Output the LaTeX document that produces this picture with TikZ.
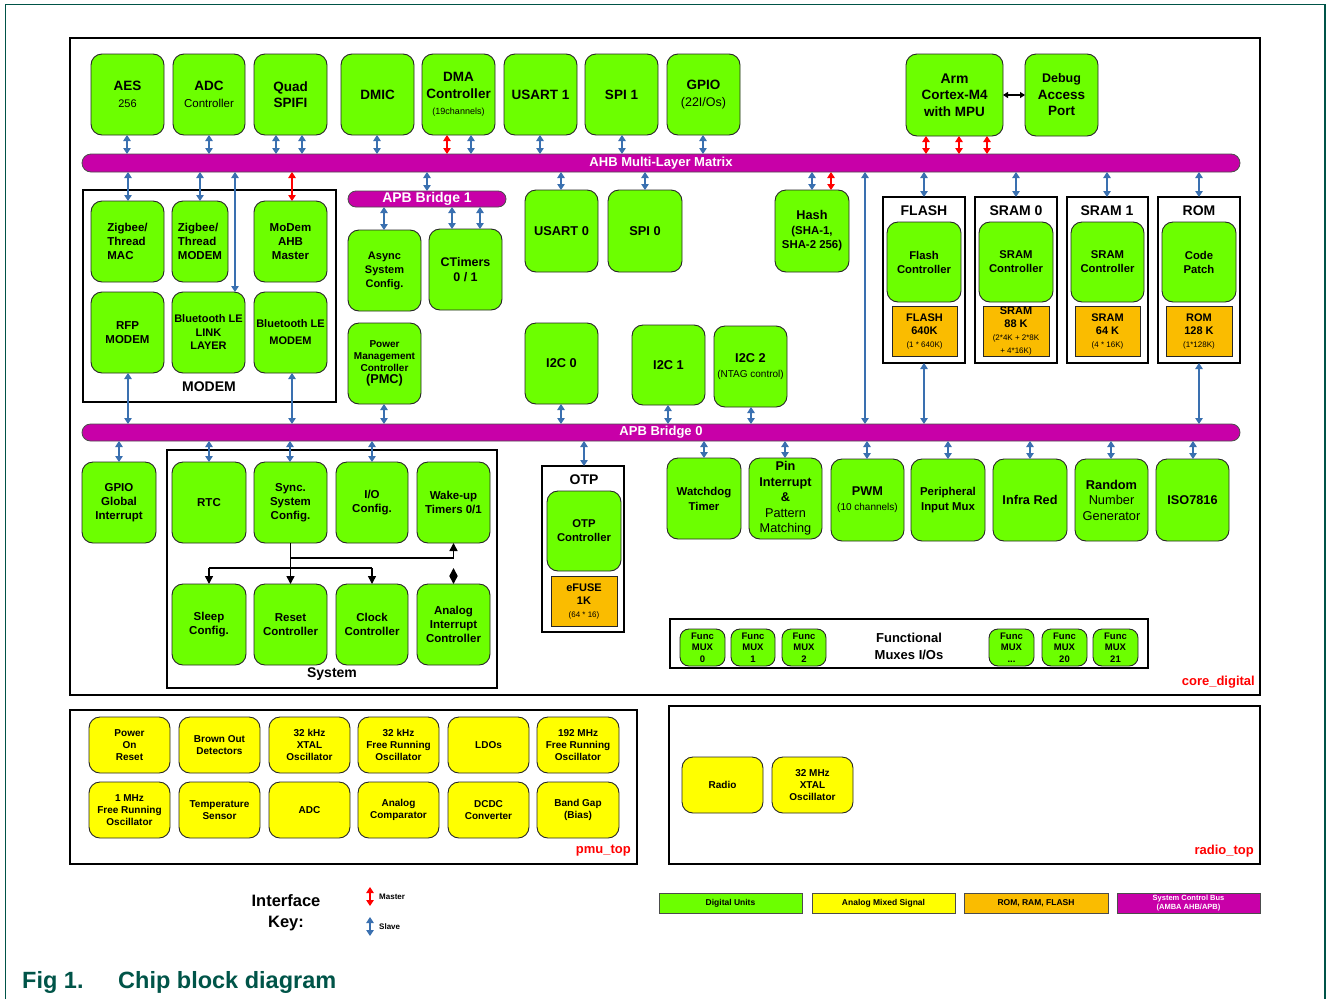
\documentclass[tikz,border=0pt]{standalone}
\usepackage{fontspec}
\setmainfont{Liberation Sans}
\usetikzlibrary{arrows.meta}

\definecolor{dgreen}{RGB}{108,255,0}
\definecolor{ayellow}{RGB}{255,255,0}
\definecolor{morange}{RGB}{250,188,0}
\definecolor{busmag}{RGB}{200,0,168}
\definecolor{sblue}{RGB}{58,112,176}
\definecolor{frameteal}{RGB}{0,84,72}

\newcommand\fz[2]{\fontsize{#1}{#2}\selectfont}
% block: name, x1, y1, x2, y2, style, text
\newcommand\blk[7]{\node[#6, minimum width={(#4)-(#2)}, minimum height={(#5)-(#3)}] (#1) at ({((#2)+(#4))/2},{((#3)+(#5))/2}) {#7};}
% vertical link at a given x between two node borders
\newcommand\vlink[4]{\draw[#1] (#2,0 |- #3) -- (#2,0 |- #4);}

\tikzset{
  gb/.style={draw=black!85, line width=0.9pt, fill=dgreen, rounded corners=11pt, align=center,
             inner sep=0pt, outer sep=0pt, font=\fz{11.5}{14}\bfseries},
  tb/.style={gb, font=\fz{13.5}{16.5}\bfseries},
  yb/.style={gb, fill=ayellow, font=\fz{10}{12}\bfseries},
  fm/.style={gb, rounded corners=9pt, font=\fz{9.5}{11.5}\bfseries},
  ob/.style={draw=black!85, line width=0.9pt, fill=morange, align=center, inner sep=0pt,
             outer sep=0pt, font=\fz{11}{13}\bfseries},
  grp/.style={draw=black, line width=1.7pt, fill=white, inner sep=0pt, outer sep=0pt},
  bus/.style={draw=black!70, line width=0.8pt, fill=busmag, rounded corners=8pt, text=white,
              font=\fz{13}{15}\bfseries, inner sep=0pt, outer sep=0pt},
  lg/.style={draw=black!70, line width=0.9pt, align=center, inner sep=0pt, outer sep=0pt,
             font=\fz{8.5}{10}\bfseries},
  hd/.style={font=\fz{14}{16}\bfseries, inner sep=0pt},
  tag/.style={text=red, font=\fz{13}{15}\bfseries, anchor=east, inner sep=0pt},
  sa/.style={sblue, line width=1.1pt, {Triangle[length=6pt,width=7.5pt]}-{Triangle[length=6pt,width=7.5pt]}},
  ma/.style={sa, red},
  kl/.style={black, line width=1.5pt},
  ka/.style={kl, -{Triangle[length=8pt,width=8pt]}},
  dka/.style={kl, {Triangle[length=8pt,width=8pt]}-{Triangle[length=8pt,width=8pt]}},
  sk/.style={black, line width=1.1pt, {Triangle[length=5pt,width=6pt]}-{Triangle[length=5pt,width=6pt]}},
}

\begin{document}
\begin{tikzpicture}[x=1pt, y=-1pt]
\useasboundingbox (0,0) rectangle (1327,999);

% page frame
\draw[frameteal, line width=1.2pt] (5.5,999) -- (5.5,4.5) -- (1325,4.5) -- (1325,999);

% ---------------- core_digital ----------------
\blk{core}{70}{38}{1260}{695}{grp}{}
\node[tag] (coretag) at (1255,682) {core\_digital};

% top row of AHB peripherals
\blk{aes}{91}{54}{164}{135}{tb}{AES\\\mdseries\fz{11}{16}256}
\blk{adc}{173}{54}{245}{135}{tb}{ADC\\\mdseries\fz{11.5}{16}Controller}
\blk{quad}{254}{54}{327}{135}{tb}{Quad\\SPIFI}
\blk{dmic}{341}{54}{414}{135}{tb}{DMIC}
\blk{dma}{422}{54}{495}{135}{tb}{DMA\\Controller\\\mdseries\fz{9}{14}(19channels)}
\blk{usarta}{504}{54}{577}{135}{tb}{USART 1}
\blk{spia}{585}{54}{658}{135}{tb}{SPI 1}
\blk{gpio}{667}{54}{740}{135}{tb}{GPIO\\\mdseries\fz{12.5}{15}(22I/Os)}
\blk{arm}{906}{54}{1003}{136}{tb}{\fz{14}{17.5}\bfseries Arm\\Cortex-M4\\with MPU}
\blk{dap}{1025}{54}{1098}{136}{tb}{\fz{12.5}{15.5}\bfseries Debug\\Access\\Port}
\draw[sk] (arm.east) -- (dap.west);

% AHB matrix
\blk{ahb}{82}{154}{1240}{172}{bus, rounded corners=9pt}{AHB Multi-Layer Matrix}

% MODEM group
\blk{modem}{83}{190}{336}{402}{grp}{}
\node[hd] (modemT) at (209,387) {MODEM};
\blk{zmac}{91}{201}{164}{282}{gb, align=left}{Zigbee/\\Thread\\MAC}
\blk{zmod}{172}{201}{228}{282}{gb, align=left}{Zigbee/\\Thread\\MODEM}
\blk{mahb}{254}{201}{327}{282}{gb}{MoDem\\AHB\\Master}
\blk{rfp}{91}{292}{164}{373}{gb}{RFP\\MODEM}
\blk{btll}{172}{292}{245}{373}{gb, font=\fz{11}{13.5}\bfseries}{Bluetooth LE\\LINK\\LAYER}
\blk{btm}{254}{292}{327}{373}{gb, font=\fz{11}{17}\bfseries}{Bluetooth LE\\MODEM}

% APB bridge 1 and its peripherals
\blk{apba}{348}{191}{506}{207}{bus, font=\fz{14}{16}\bfseries}{APB Bridge 1}
\blk{async}{348}{230}{421}{311}{gb, font=\fz{11}{14}\bfseries}{Async\\System\\Config.}
\blk{ctim}{429}{229}{502}{310}{gb, font=\fz{12.5}{15.5}\bfseries}{CTimers\\0 / 1}
\blk{pmc}{348}{323}{421}{404}{gb, font=\fz{10}{12}\bfseries}{Power\\Management\\Controller\\\fz{12.8}{16}(PMC)}

\blk{usartz}{525}{190}{598}{272}{gb, font=\fz{12.8}{15}\bfseries}{USART 0}
\blk{spiz}{608}{190}{682}{272}{gb, font=\fz{12.8}{15}\bfseries}{SPI 0}
\blk{hash}{775}{190}{849}{272}{gb, font=\fz{11.4}{14.5}\bfseries}{\fz{12.7}{14.5}Hash\\\fz{11.4}{14.5}(SHA-1,\\SHA-2 256)}

\blk{i2cz}{525}{323}{598}{404}{gb, font=\fz{12.8}{15}\bfseries}{I2C 0}
\blk{i2ca}{632}{325}{705}{405}{gb, font=\fz{12.8}{15}\bfseries}{I2C 1}
\blk{i2cb}{714}{326}{787}{407}{gb, font=\fz{12.8}{15}\bfseries}{I2C 2\\\mdseries\fz{10}{24}(NTAG control)}

% memories
\blk{flash}{883}{197}{965}{363}{grp}{}
\node[hd] (flashT) at (924,211) {FLASH};
\blk{flc}{887}{222}{961}{302}{gb, font=\fz{11.3}{14}\bfseries}{Flash\\Controller}
\blk{flm}{892}{306}{957}{356}{ob}{FLASH\\640K\\\mdseries\fz{8}{12}(1 * 640K)}

\blk{srz}{975}{197}{1057}{363}{grp}{}
\node[hd] (srzT) at (1016,211) {SRAM 0};
\blk{srzc}{979}{222}{1053}{302}{gb, font=\fz{11.3}{14}\bfseries}{SRAM\\Controller}
\blk{srzm}{983}{306}{1049}{356}{ob}{SRAM\\88 K\\\mdseries\fz{8}{11}(2*4K + 2*8K\\\mdseries\fz{8}{9.5}+ 4*16K)}

\blk{sra}{1067}{197}{1148}{363}{grp}{}
\node[hd] (sraT) at (1107,211) {SRAM 1};
\blk{srac}{1071}{222}{1144}{302}{gb, font=\fz{11.3}{14}\bfseries}{SRAM\\Controller}
\blk{sram}{1075}{306}{1140}{356}{ob}{SRAM\\64 K\\\mdseries\fz{8}{12}(4 * 16K)}

\blk{rom}{1158}{197}{1240}{363}{grp}{}
\node[hd] (romT) at (1199,211) {ROM};
\blk{cpatch}{1162}{222}{1236}{302}{gb, font=\fz{11.3}{14}\bfseries}{Code\\Patch}
\blk{romm}{1166}{306}{1232}{356}{ob}{ROM\\128 K\\\mdseries\fz{8}{12}(1*128K)}

% APB bridge 0
\blk{apbz}{82}{424}{1240}{441}{bus, rounded corners=8.5pt}{APB Bridge 0}

% APB 0 peripherals
\blk{gpioi}{82}{462}{156}{543}{gb}{GPIO\\Global\\Interrupt}

\blk{sys}{167}{450}{497}{688}{grp}{}
\node[hd] (sysT) at (332,674) {System};
\blk{rtc}{172}{462}{246}{543}{gb}{RTC}
\blk{sync}{254}{462}{327}{543}{gb}{Sync.\\System\\Config.}
\blk{ioc}{336}{462}{408}{543}{gb}{I/O\\Config.}
\blk{wake}{417}{462}{490}{543}{gb}{Wake-up\\Timers 0/1}
\blk{sleep}{172}{584}{246}{665}{gb}{Sleep\\Config.}
\blk{reset}{254}{584}{327}{665}{gb}{Reset\\Controller}
\blk{clock}{336}{584}{408}{665}{gb}{Clock\\Controller}
\blk{aic}{417}{584}{490}{665}{gb}{Analog\\Interrupt\\Controller}

\blk{otp}{542}{466}{624}{632}{grp}{}
\node[hd] (otpT) at (584,480) {OTP};
\blk{otpc}{547}{491}{621}{571}{gb, font=\fz{11.3}{14}\bfseries}{OTP\\Controller}
\blk{efuse}{551}{576}{617}{626}{ob}{eFUSE\\1K\\\mdseries\fz{8}{12}(64 * 16)}

\blk{wdt}{667}{458}{741}{539}{gb, font=\fz{11.4}{15}\bfseries}{Watchdog\\Timer}
\blk{pint}{749}{458}{822}{539}{gb, font=\fz{12.7}{15.5}\bfseries}{Pin\\Interrupt\\\&\\\mdseries Pattern\\\mdseries Matching}
\blk{pwm}{831}{459}{904}{541}{gb, font=\fz{12.7}{15}\bfseries}{PWM\\\mdseries\fz{10}{16}(10 channels)}
\blk{pim}{911}{459}{985}{541}{gb, font=\fz{11.4}{15}\bfseries}{Peripheral\\Input Mux}
\blk{irda}{993}{459}{1067}{541}{gb, font=\fz{12.7}{15}\bfseries}{Infra Red}
\blk{rng}{1075}{459}{1148}{541}{gb, font=\fz{12.8}{15.5}\bfseries}{Random\\\mdseries Number\\\mdseries Generator}
\blk{iso}{1156}{459}{1229}{541}{gb, font=\fz{12.7}{15}\bfseries}{ISO7816}

% functional muxes
\blk{fmux}{670}{619}{1148}{668}{grp}{}
\node[font=\fz{13}{17}\bfseries, align=center, inner sep=0pt] (fmuxT) at (909,646) {Functional\\Muxes I/Os};
\blk{fma}{680}{629}{725}{666}{fm}{Func\\MUX\\0}
\blk{fmb}{731}{629}{775}{666}{fm}{Func\\MUX\\1}
\blk{fmc}{782}{629}{826}{666}{fm}{Func\\MUX\\2}
\blk{fmd}{989}{629}{1034}{666}{fm}{Func\\MUX\\...}
\blk{fme}{1042}{629}{1087}{666}{fm}{Func\\MUX\\20}
\blk{fmf}{1093}{629}{1138}{666}{fm}{Func\\MUX\\21}

% ---------------- connectors to the AHB matrix ----------------
\vlink{sa}{127}{aes.south}{ahb.north}
\vlink{sa}{209}{adc.south}{ahb.north}
\vlink{sa}{276}{quad.south}{ahb.north}
\vlink{sa}{302}{quad.south}{ahb.north}
\vlink{sa}{377}{dmic.south}{ahb.north}
\vlink{ma}{447}{dma.south}{ahb.north}
\vlink{sa}{471}{dma.south}{ahb.north}
\vlink{sa}{540}{usarta.south}{ahb.north}
\vlink{sa}{622}{spia.south}{ahb.north}
\vlink{sa}{703}{gpio.south}{ahb.north}
\vlink{ma}{926}{arm.south}{ahb.north}
\vlink{ma}{959}{arm.south}{ahb.north}
\vlink{ma}{987}{arm.south}{ahb.north}

\vlink{sa}{128}{ahb.south}{zmac.north}
\vlink{sa}{200}{ahb.south}{zmod.north}
\vlink{sa}{235}{ahb.south}{btll.north}
\vlink{ma}{292}{ahb.south}{mahb.north}
\vlink{sa}{427}{ahb.south}{apba.north}
\vlink{sa}{561}{ahb.south}{usartz.north}
\vlink{sa}{645}{ahb.south}{spiz.north}
\vlink{sa}{812}{ahb.south}{hash.north}
\vlink{ma}{831}{ahb.south}{hash.north}
\vlink{sa}{865}{ahb.south}{apbz.north}
\vlink{sa}{924}{ahb.south}{flash.north}
\vlink{sa}{1016}{ahb.south}{srz.north}
\vlink{sa}{1107}{ahb.south}{sra.north}
\vlink{sa}{1199}{ahb.south}{rom.north}

% APB bridge 1
\vlink{sa}{384}{apba.south}{async.north}
\vlink{sa}{452}{apba.south}{ctim.north}
\vlink{sa}{480}{apba.south}{ctim.north}

% into APB bridge 0
\vlink{sa}{128}{rfp.south}{apbz.north}
\vlink{sa}{292}{btm.south}{apbz.north}
\vlink{sa}{384}{pmc.south}{apbz.north}
\vlink{sa}{561}{i2cz.south}{apbz.north}
\vlink{sa}{668}{i2ca.south}{apbz.north}
\vlink{sa}{751}{i2cb.south}{apbz.north}
\vlink{sa}{924}{flash.south}{apbz.north}
\vlink{sa}{1199}{rom.south}{apbz.north}

% out of APB bridge 0
\vlink{sa}{119}{apbz.south}{gpioi.north}
\vlink{sa}{209}{apbz.south}{rtc.north}
\vlink{sa}{290}{apbz.south}{sync.north}
\vlink{sa}{372}{apbz.south}{ioc.north}
\vlink{sa}{584}{apbz.south}{otp.north}
\vlink{sa}{704}{apbz.south}{wdt.north}
\vlink{sa}{785}{apbz.south}{pint.north}
\vlink{sa}{867}{apbz.south}{pwm.north}
\vlink{sa}{948}{apbz.south}{pim.north}
\vlink{sa}{1030}{apbz.south}{irda.north}
\vlink{sa}{1111}{apbz.south}{rng.north}
\vlink{sa}{1193}{apbz.south}{iso.north}

% system configuration fan-out
\coordinate (ja) at (290.5,558);
\coordinate (jb) at (290.5,568);
\draw[kl] (sync.south) -- (jb);
\draw[kl] (sleep.north |- jb) -- (clock.north |- jb);
\draw[ka] (sleep.north |- jb) -- (sleep.north);
\draw[ka] (jb) -- (reset.north);
\draw[ka] (clock.north |- jb) -- (clock.north);
\draw[ka] (ja) -| (wake.south);
\draw[dka] (wake.south |- jb) -- (aic.north);

% ---------------- pmu_top ----------------
\blk{pmu}{70}{710}{637}{864}{grp}{}
\node[tag] (pmutag) at (631,851) {pmu\_top};
\blk{por}{89}{717}{170}{773}{yb}{Power\\On\\Reset}
\blk{bod}{179}{717}{260}{773}{yb}{Brown Out\\Detectors}
\blk{xtalk}{269}{717}{350}{773}{yb}{32 kHz\\XTAL\\Oscillator}
\blk{frok}{358}{717}{439}{773}{yb}{32 kHz\\Free Running\\Oscillator}
\blk{ldo}{448}{717}{529}{773}{yb}{LDOs}
\blk{from}{537}{717}{619}{773}{yb}{192 MHz\\Free Running\\Oscillator}
\blk{froa}{89}{782}{170}{838}{yb}{1 MHz\\Free Running\\Oscillator}
\blk{temp}{179}{782}{260}{838}{yb}{Temperature\\Sensor}
\blk{aadc}{269}{782}{350}{838}{yb}{ADC}
\blk{acmp}{358}{782}{439}{838}{yb}{Analog\\Comparator}
\blk{dcdc}{448}{782}{529}{838}{yb}{DCDC\\Converter}
\blk{bgap}{537}{782}{619}{838}{yb}{Band Gap\\(Bias)}

% ---------------- radio_top ----------------
\blk{rad}{669}{706}{1260}{864}{grp}{}
\node[tag] (radtag) at (1254,851) {radio\_top};
\blk{radio}{682}{757}{763}{813}{yb}{Radio}
\blk{xtalm}{772}{757}{853}{813}{yb}{32 MHz\\XTAL\\Oscillator}

% ---------------- colour legend ----------------
\blk{lga}{659}{893}{802}{913}{lg, fill=dgreen}{Digital Units}
\blk{lgb}{812}{893}{955}{913}{lg, fill=ayellow}{Analog Mixed Signal}
\blk{lgc}{964}{893}{1108}{913}{lg, fill=morange}{ROM, RAM, FLASH}
\blk{lgd}{1117}{893}{1260}{913}{lg, fill=busmag, text=white, font=\fz{7.5}{9}\bfseries}{System Control Bus\\(AMBA AHB/APB)}

% ---------------- interface key ----------------
\node[font=\fz{16.5}{21}\bfseries, align=center, inner sep=0pt] (keyT) at (286,913) {Interface\\Key:};
\coordinate (mka) at (370,887);
\coordinate (mkb) at (370,906);
\coordinate (ska) at (370,917);
\coordinate (skb) at (370,936);
\draw[ma] (mka) -- (mkb);
\draw[sa] (ska) -- (skb);
\node[anchor=west, inner sep=0pt, font=\fz{8}{10}\bfseries] (mkT) at (379,897) {Master};
\node[anchor=west, inner sep=0pt, font=\fz{8}{10}\bfseries] (skT) at (379,927) {Slave};

% ---------------- caption ----------------
\node[anchor=base west, inner sep=0pt, text=frameteal, font=\fz{23.5}{26}\bfseries] (figno) at (22,988) {Fig 1.};
\node[anchor=base west, inner sep=0pt, text=frameteal, font=\fz{23.5}{26}\bfseries] (figcap) at (118,988) {Chip block diagram};

\end{tikzpicture}
\end{document}
